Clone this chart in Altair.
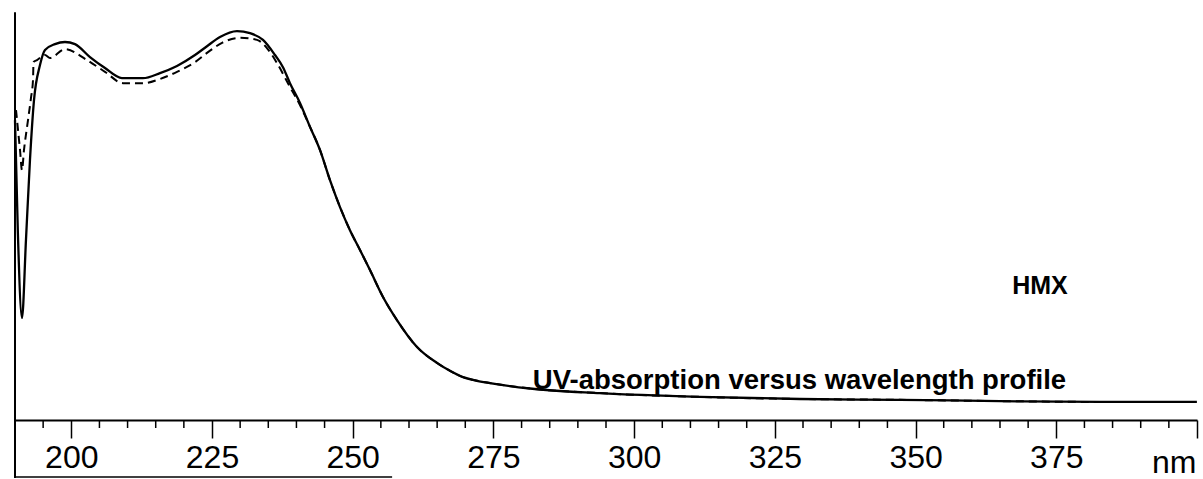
import altair as alt
import pandas as pd

# Solid curve (wavelength nm, relative absorbance)
solid_nm = [190.0, 190.5, 191.24, 191.95, 192.66, 193.38, 194.44, 195.33, 197.1, 198.88,
            200.66, 203.32, 205.99, 209.0, 212.74, 215.76, 218.78, 221.98, 224.11, 226.42,
            229.44, 231.75, 234.06, 236.19, 237.61, 238.85, 240.63, 242.41, 244.18, 245.96,
            247.74, 249.51, 251.29, 253.07, 255.38, 257.86, 261.42, 264.97, 267.28, 269.59,
            271.9, 274.38, 281.49, 293.92, 311.69, 329.46, 347.22, 364.99, 382.75, 399.98]
solid_abs = [0.714, 0.45, 0.243, 0.429, 0.619, 0.762, 0.845, 0.881, 0.895, 0.9,
             0.895, 0.864, 0.838, 0.814, 0.814, 0.826, 0.843, 0.869, 0.89, 0.912,
             0.926, 0.921, 0.905, 0.869, 0.84, 0.802, 0.755, 0.698, 0.643, 0.571,
             0.507, 0.452, 0.405, 0.357, 0.293, 0.238, 0.174, 0.136, 0.117, 0.102,
             0.094, 0.088, 0.075, 0.064, 0.055, 0.05, 0.048, 0.045, 0.043, 0.043]

# Dashed curve
dashed_nm = [190.18, 190.89, 191.24, 191.6, 192.31, 192.84, 193.2, 193.29, 193.91, 195.33,
             196.22, 198.88, 202.79, 205.99, 209.19, 212.74, 215.76, 218.78, 221.98, 224.11,
             226.78, 229.97, 232.99, 235.3, 236.54, 238.85, 240.63, 242.41, 244.18, 245.96,
             247.74, 249.51, 251.29, 253.07, 255.38, 257.86, 261.42, 264.97, 267.28, 269.59,
             271.9, 274.38, 281.49, 293.92, 311.69, 329.46, 347.22, 364.99, 382.75, 399.98]
dashed_abs = [0.738, 0.643, 0.595, 0.643, 0.714, 0.767, 0.81, 0.852, 0.857, 0.869,
              0.862, 0.883, 0.857, 0.829, 0.802, 0.802, 0.812, 0.829, 0.852, 0.874,
              0.898, 0.91, 0.905, 0.876, 0.85, 0.793, 0.75, 0.698, 0.643, 0.571,
              0.507, 0.452, 0.405, 0.357, 0.293, 0.238, 0.174, 0.136, 0.117, 0.102,
              0.094, 0.088, 0.075, 0.064, 0.055, 0.05, 0.048, 0.045, 0.043, 0.043]

# Axis ticks
major_ticks = [200, 225, 250, 275, 300, 325, 350, 375, 400]
minor_ticks = [190, 195, 205, 210, 215, 220, 230, 235, 240, 245, 255, 260, 265, 270,
               280, 285, 290, 295, 305, 310, 315, 320, 330, 335, 340, 345, 355, 360,
               365, 370, 380, 385, 390, 395]
minor_top = 0.0
minor_bottom = -0.019

# Annotations
annot_text = ["HMX", "UV-absorption versus wavelength profile", "nm"]
annot_nm = [372.1, 282.0, 399.9]
annot_abs = [0.3, 0.074, -0.126]

# Frame lines (scanned frame)
frame_x = [190.0]
frame_y = [0.971]
frame_y2 = [-0.138]
bottom_x = [190.0]
bottom_x2 = [257.0]
bottom_y = [-0.136]

solid_df = pd.DataFrame({"nm": solid_nm, "abs": solid_abs, "i": range(len(solid_nm))})
dashed_df = pd.DataFrame({"nm": dashed_nm, "abs": dashed_abs, "i": range(len(dashed_nm))})

xscale = alt.Scale(domain=[190, 400], nice=False, zero=False)
yscale = alt.Scale(domain=[0, 1], nice=False, zero=False)

xaxis = alt.Axis(
    values=major_ticks,
    title=None,
    grid=False,
    domainColor="black",
    domainWidth=2,
    tickColor="black",
    tickWidth=1.5,
    tickSize=18,
    labelExpr="datum.value < 400 ? datum.label : ''",
    labelFont="Liberation Sans",
    labelFontSize=32,
    labelColor="black",
    labelPadding=4,
    labelOverlap=False,
    labelFlush=False,
)

solid = alt.Chart(solid_df).mark_line(
    color="black", strokeWidth=2.3, clip=False, interpolate="monotone"
).encode(
    x=alt.X("nm:Q", scale=xscale, axis=xaxis),
    y=alt.Y("abs:Q", scale=yscale, axis=None),
    order="i:Q",
)
dashed = alt.Chart(dashed_df).mark_line(
    color="black", strokeWidth=2, strokeDash=[8, 5], clip=False, interpolate="monotone"
).encode(
    x=alt.X("nm:Q", scale=xscale),
    y=alt.Y("abs:Q", scale=yscale),
    order="i:Q",
)

minor = alt.Chart(pd.DataFrame({"x": minor_ticks, "y": [minor_top] * len(minor_ticks),
                                "y2": [minor_bottom] * len(minor_ticks)})).mark_rule(
    color="black", strokeWidth=1.5, clip=False
).encode(x=alt.X("x:Q", scale=xscale), y=alt.Y("y:Q", scale=yscale), y2="y2:Q")

frame = alt.Chart(pd.DataFrame({"x": frame_x, "y": frame_y, "y2": frame_y2})).mark_rule(
    color="black", strokeWidth=2, clip=False
).encode(x=alt.X("x:Q", scale=xscale), y=alt.Y("y:Q", scale=yscale), y2="y2:Q")

bottom = alt.Chart(pd.DataFrame({"x": bottom_x, "x2": bottom_x2, "y": bottom_y})).mark_rule(
    color="black", strokeWidth=1.5, clip=False
).encode(x=alt.X("x:Q", scale=xscale), x2="x2:Q", y=alt.Y("y:Q", scale=yscale))

adf = pd.DataFrame({"t": annot_text, "nm": annot_nm, "abs": annot_abs})
hmx = alt.Chart(adf.iloc[[0]]).mark_text(
    font="Liberation Sans", fontSize=25, fontWeight="bold", color="black", align="center", baseline="alphabetic"
).encode(x=alt.X("nm:Q", scale=xscale), y=alt.Y("abs:Q", scale=yscale), text="t:N")
uv = alt.Chart(adf.iloc[[1]]).mark_text(
    font="Liberation Sans", fontSize=27.5, fontWeight="bold", color="black", align="left", baseline="alphabetic"
).encode(x=alt.X("nm:Q", scale=xscale), y=alt.Y("abs:Q", scale=yscale), text="t:N")
nm = alt.Chart(adf.iloc[[2]]).mark_text(
    font="Liberation Sans", fontSize=32, color="black", align="right", baseline="alphabetic", clip=False
).encode(x=alt.X("nm:Q", scale=xscale), y=alt.Y("abs:Q", scale=yscale), text="t:N")

chart = alt.layer(solid, dashed, minor, frame, bottom, hmx, uv, nm).properties(
    width=1182,
    height=420,
    padding={"left": 15, "top": 0, "right": 6, "bottom": 59},
    autosize=alt.AutoSizeParams(type="none"),
    background="white",
).configure_view(stroke=None)

chart.save("out.html", embed_options={"renderer": "svg", "actions": False})
